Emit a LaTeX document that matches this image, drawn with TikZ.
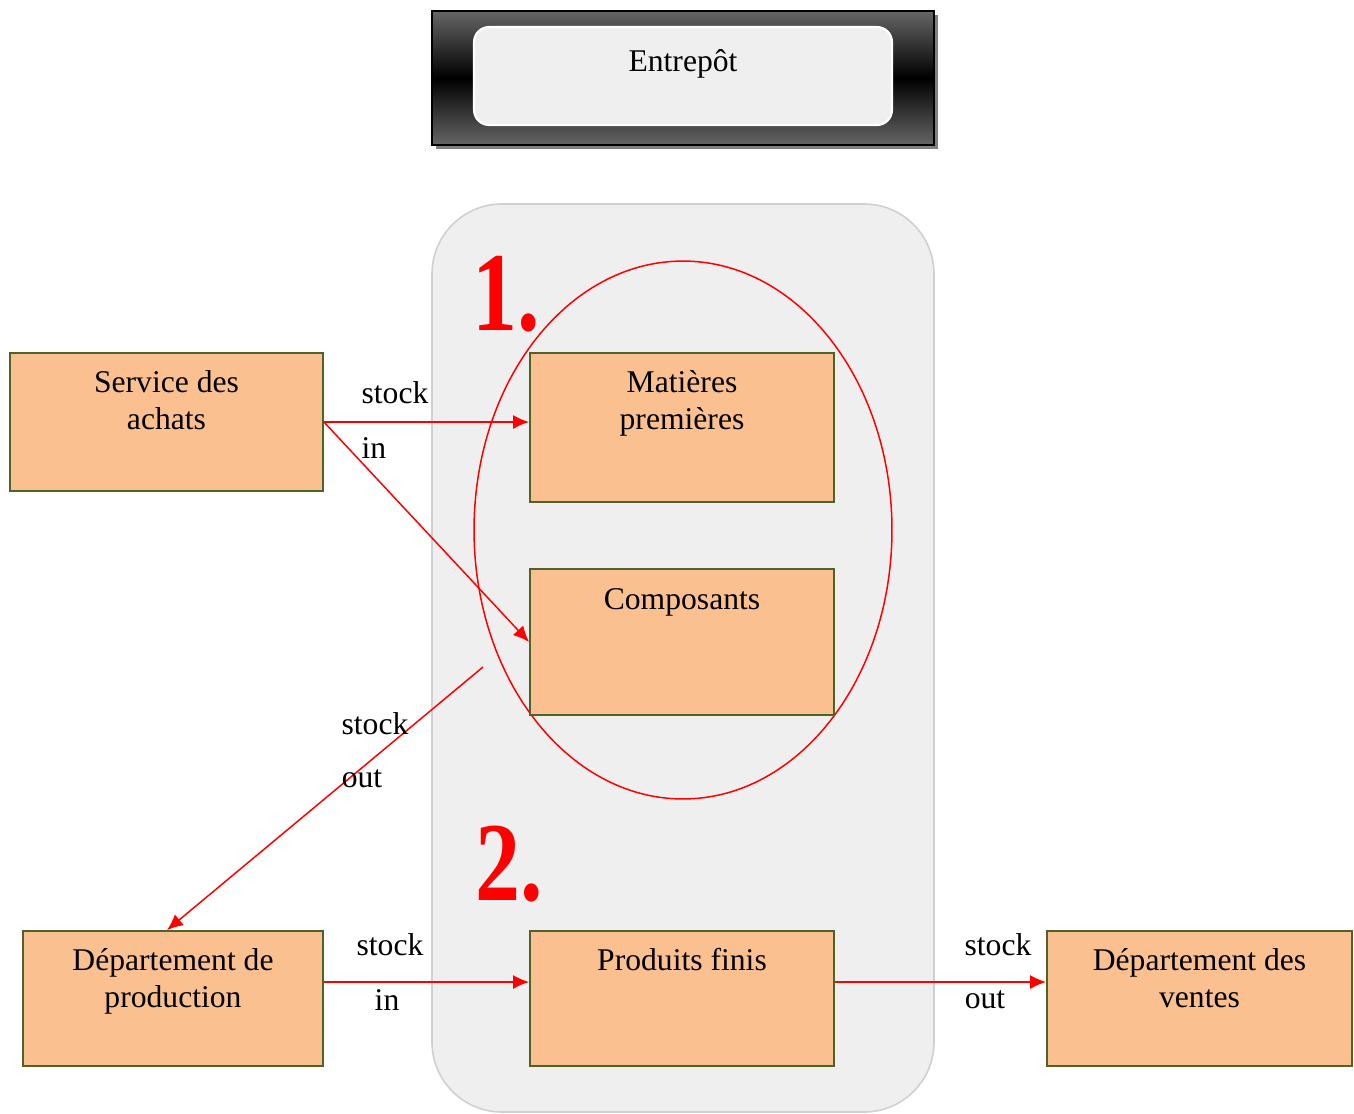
\documentclass[tikz,border=0pt]{standalone}
\usepackage{fontspec}
\setmainfont{Liberation Serif}
\usetikzlibrary{arrows.meta,shadows}

\definecolor{saumon}{HTML}{FAC090}
\definecolor{olive}{HTML}{4F6228}
\definecolor{fond}{HTML}{EFEFEF}
\definecolor{bordfond}{HTML}{D0D0D0}

\tikzset{
  boite/.style={draw=olive, fill=saumon, line width=1.1pt, inner sep=0pt},
  titre/.style={anchor=north, align=center, inner sep=0pt, yshift=-0.36cm},
  fleche/.style={draw=red, line width=0.85pt, -{Latex[length=0.32cm,width=0.28cm]}},
  etiq/.style={inner sep=0pt},
  numero/.style={anchor=base west, inner sep=0pt, text=red, font=\fontsize{64}{64}\selectfont\bfseries}
}

\begin{document}
\begin{tikzpicture}[x=0.02cm, y=-0.02cm, font=\fontsize{18}{21}\selectfont]
    \useasboundingbox (0,0) rectangle (1354,1113);

    % Entrepot header
    \node[draw=black, line width=1.1pt, minimum width=10.04cm, minimum height=2.68cm,
          top color=black!60, bottom color=black!60, middle color=black,
          drop shadow={shadow xshift=0.08cm, shadow yshift=-0.08cm, fill=gray, opacity=1}]
          (entrepot) at (683,78) {};
    \node[draw=white, line width=1.2pt, fill=fond, rounded corners=0.3cm,
          minimum width=8.36cm, minimum height=1.96cm] (interieur) at (683,76) {};
    \node[anchor=base, inner sep=0pt] (entrepot-t) at (683,71) {Entrepôt};

    % Warehouse area
    \draw[draw=bordfond, line width=0.9pt, fill=fond, rounded corners=1.4cm] (432,204) rectangle (934,1112);
    \draw[red, line width=0.85pt] (683,530) ellipse [x radius=4.18cm, y radius=5.38cm];
    \node[numero] (un) at (472,330) {\scalebox{0.8}[1]{1.}};
    \node[numero] (deux) at (475,900) {\scalebox{0.8}[1]{2.}};

    % Boxes
    \node[boite, minimum width=6.26cm, minimum height=2.76cm] (achats) at (166.5,422) {};
    \node[titre] at (achats.north) {Service des\\achats};
    \node[boite, minimum width=6.08cm, minimum height=2.98cm] (matieres) at (682,427.5) {};
    \node[titre] at (matieres.north) {Matières\\premières};
    \node[boite, minimum width=6.08cm, minimum height=2.92cm] (composants) at (682,642) {};
    \node[titre, yshift=-0.04cm] at (composants.north) {Composants};
    \node[boite, minimum width=6.0cm, minimum height=2.7cm] (production) at (173,998.5) {};
    \node[titre] at (production.north) {Département de\\production};
    \node[boite, minimum width=6.08cm, minimum height=2.7cm] (produits) at (682,998.5) {};
    \node[titre] at (produits.north) {Produits finis};
    \node[boite, minimum width=6.1cm, minimum height=2.7cm] (ventes) at (1199.5,998.5) {};
    \node[titre] at (ventes.north) {Département des\\ventes};

    % Flows
    \draw[fleche] (achats.east) -- (achats.east -| matieres.west);
    \draw[fleche] (achats.east) -- (composants.west);
    \coordinate (sortie) at (483,667);
    \draw[fleche] (sortie) -- ([xshift=-0.12cm]production.north);
    \draw[fleche] ([yshift=0.33cm]production.east) -- ([yshift=0.33cm]production.east -| produits.west);
    \draw[fleche] ([yshift=0.33cm]produits.east) -- ([yshift=0.33cm]produits.east -| ventes.west);

    % Labels
    \node[etiq] (s1) at (395,393) {stock};
    \node[etiq] (i1) at (374,448) {in};
    \node[etiq] (s2) at (375,724) {stock};
    \node[etiq] (o2) at (362,779) {out};
    \node[etiq] (s3) at (390,945) {stock};
    \node[etiq] (i3) at (387,1000) {in};
    \node[etiq] (s4) at (998,945) {stock};
    \node[etiq] (o4) at (985,1000) {out};
\end{tikzpicture}
\end{document}
